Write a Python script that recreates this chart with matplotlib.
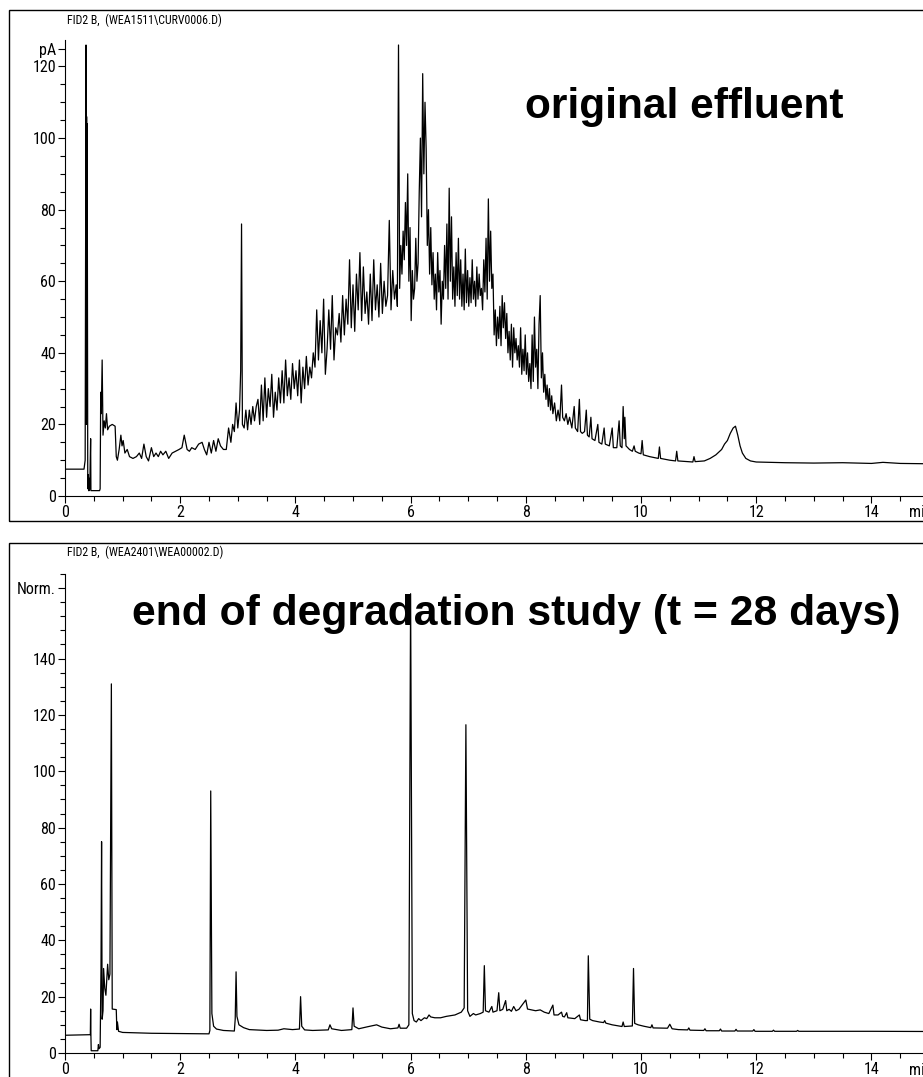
import numpy as np
import matplotlib
matplotlib.use('Agg')
import matplotlib.pyplot as plt
from matplotlib import font_manager
from matplotlib.patches import Rectangle
from matplotlib.ticker import MultipleLocator

# condensed face for the instrument labels, if one is installed
installed = {f.name for f in font_manager.fontManager.ttflist}
narrow = next((n for n in ('Liberation Sans Narrow', 'Arial Narrow',
                           'Roboto Condensed', 'Open Sans Condensed')
               if n in installed), None)
if narrow:
    label_size, header_size = 11.5, 8.6
    plt.rcParams['font.family'] = [narrow, 'Liberation Sans', 'DejaVu Sans']
else:
    label_size, header_size = 10, 7.5
    plt.rcParams['font.family'] = ['Liberation Sans', 'DejaVu Sans']

# --- FID2 B signal, original effluent (time in min, signal in pA) ---
effluent_trace = [
    (0.00, 7.5), (0.33, 7.5), (0.35, 10), (0.365, 126), (0.37, 20), (0.375, 106),
    (0.38, 58), (0.385, 104), (0.39, 60), (0.395, 4), (0.40, 2), (0.405, 6),
    (0.41, 1.5), (0.415, 5), (0.42, 1.5), (0.43, 2), (0.445, 16), (0.45, 1.5),
    (0.60, 1.5), (0.61, 2), (0.62, 29), (0.63, 23), (0.645, 38), (0.66, 17),
    (0.68, 21), (0.70, 19), (0.72, 23), (0.74, 18.5), (0.77, 19.5), (0.82, 20),
    (0.87, 19.5), (0.89, 11), (0.91, 10), (0.94, 13), (0.97, 17), (0.99, 14),
    (1.01, 15.5), (1.04, 12), (1.08, 13), (1.12, 11), (1.18, 10.5), (1.24, 11),
    (1.29, 12), (1.33, 10.5), (1.37, 14.5), (1.41, 11), (1.45, 9.8), (1.50, 13.5),
    (1.54, 11), (1.58, 12), (1.62, 11), (1.66, 12.5), (1.70, 11.5), (1.75, 12.5),
    (1.80, 10.5), (1.86, 12), (1.92, 12.5), (1.98, 13), (2.03, 13.5), (2.07, 17),
    (2.12, 13), (2.16, 12.5), (2.20, 13.5), (2.26, 13), (2.32, 14.5), (2.38, 15),
    (2.42, 13), (2.46, 11.5), (2.50, 15), (2.54, 12), (2.58, 15.5), (2.62, 12.5),
    (2.66, 16), (2.70, 14), (2.75, 13), (2.80, 13), (2.84, 19), (2.88, 15),
    (2.91, 20), (2.94, 18), (2.97, 26), (3.00, 19), (3.03, 24), (3.05, 35),
    (3.065, 76), (3.08, 20), (3.11, 19), (3.14, 24), (3.17, 18.5), (3.20, 24),
    (3.23, 20), (3.26, 25), (3.29, 21), (3.32, 25), (3.35, 27), (3.38, 20),
    (3.41, 31), (3.44, 21), (3.47, 33), (3.50, 22), (3.53, 30), (3.56, 25),
    (3.59, 34), (3.62, 22), (3.65, 29), (3.68, 24), (3.71, 33), (3.74, 26),
    (3.77, 35), (3.80, 26), (3.83, 38), (3.86, 28), (3.89, 33), (3.92, 27),
    (3.95, 37), (3.98, 30), (4.01, 35), (4.04, 28), (4.07, 38), (4.10, 26),
    (4.13, 36), (4.16, 30), (4.19, 39), (4.22, 31), (4.25, 36), (4.28, 33),
    (4.31, 40), (4.34, 36), (4.37, 52), (4.40, 38), (4.43, 49), (4.46, 40),
    (4.49, 55), (4.52, 34), (4.55, 41), (4.58, 52), (4.61, 41), (4.64, 56),
    (4.67, 38), (4.70, 47), (4.73, 45), (4.76, 51), (4.79, 43), (4.82, 56),
    (4.85, 45), (4.88, 55), (4.91, 48), (4.94, 66), (4.97, 47), (5.00, 59),
    (5.03, 46), (5.06, 62), (5.09, 52), (5.12, 68), (5.15, 49), (5.18, 64),
    (5.21, 51), (5.24, 57), (5.27, 48), (5.30, 62), (5.33, 49), (5.36, 66),
    (5.39, 52), (5.42, 59), (5.45, 50), (5.48, 65), (5.51, 51), (5.54, 60),
    (5.57, 53), (5.60, 56), (5.63, 77), (5.66, 52), (5.69, 63), (5.72, 55),
    (5.75, 59), (5.77, 53), (5.79, 126), (5.81, 58), (5.83, 70), (5.85, 62),
    (5.87, 74), (5.89, 66), (5.91, 82), (5.93, 70), (5.95, 90), (5.97, 60),
    (5.99, 75), (6.01, 49), (6.03, 63), (6.05, 55), (6.07, 58), (6.09, 72),
    (6.11, 60), (6.13, 65), (6.15, 85), (6.17, 100), (6.19, 78), (6.21, 118),
    (6.23, 90), (6.25, 110), (6.27, 97), (6.29, 70), (6.31, 80), (6.33, 62),
    (6.35, 75), (6.37, 59), (6.39, 68), (6.41, 55), (6.43, 62), (6.45, 52),
    (6.47, 68), (6.49, 57), (6.51, 63), (6.53, 48), (6.55, 60), (6.57, 55),
    (6.59, 70), (6.61, 58), (6.63, 76), (6.65, 55), (6.67, 86), (6.69, 60),
    (6.71, 78), (6.73, 55), (6.75, 64), (6.77, 53), (6.79, 68), (6.81, 56),
    (6.83, 72), (6.85, 55), (6.87, 66), (6.89, 53), (6.91, 62), (6.93, 52),
    (6.95, 69), (6.97, 54), (6.99, 63), (7.01, 53), (7.03, 61), (7.05, 54),
    (7.07, 66), (7.09, 55), (7.11, 60), (7.13, 53), (7.15, 64), (7.17, 55),
    (7.19, 62), (7.21, 56), (7.23, 58), (7.25, 52), (7.27, 66), (7.29, 57),
    (7.31, 72), (7.33, 55), (7.35, 83), (7.37, 60), (7.39, 74), (7.41, 58),
    (7.43, 62), (7.45, 45), (7.47, 52), (7.49, 42), (7.51, 50), (7.53, 44),
    (7.55, 53), (7.57, 42), (7.59, 56), (7.61, 47), (7.63, 54), (7.65, 44),
    (7.67, 51), (7.69, 40), (7.71, 46), (7.73, 38), (7.75, 48), (7.77, 36),
    (7.79, 47), (7.81, 40), (7.83, 44), (7.85, 38), (7.87, 42), (7.89, 36),
    (7.91, 47), (7.93, 34), (7.95, 41), (7.97, 35), (7.99, 45), (8.01, 34),
    (8.03, 40), (8.05, 32), (8.07, 37), (8.09, 30), (8.11, 45), (8.13, 32),
    (8.15, 50), (8.17, 36), (8.19, 41), (8.21, 30), (8.23, 48), (8.25, 56),
    (8.27, 33), (8.29, 40), (8.31, 29), (8.33, 34), (8.35, 27), (8.37, 31),
    (8.39, 25), (8.41, 30), (8.43, 24), (8.45, 28), (8.47, 23), (8.50, 26),
    (8.53, 21), (8.56, 24), (8.59, 21), (8.62, 31), (8.64, 22), (8.67, 21),
    (8.70, 23), (8.73, 20), (8.76, 22), (8.80, 19), (8.84, 25), (8.86, 19),
    (8.90, 18), (8.93, 27), (8.95, 18), (8.98, 17.5), (9.02, 18), (9.05, 24),
    (9.07, 17), (9.10, 16.5), (9.13, 22), (9.15, 16), (9.20, 15.5), (9.25, 20),
    (9.27, 15), (9.32, 14.5), (9.36, 19), (9.38, 14.5), (9.45, 14), (9.50, 19),
    (9.52, 13.5), (9.58, 13.5), (9.62, 21), (9.64, 14), (9.67, 13.5), (9.69, 25),
    (9.71, 16), (9.72, 22), (9.74, 14), (9.80, 13), (9.85, 12.5), (9.88, 14),
    (9.90, 12.5), (9.96, 12), (10.00, 11.8), (10.02, 15.5), (10.04, 11.5),
    (10.15, 11), (10.30, 10.5), (10.32, 13.7), (10.34, 10.5), (10.50, 10),
    (10.60, 9.8), (10.62, 12.5), (10.64, 9.8), (10.80, 9.6), (10.90, 9.5),
    (10.92, 11), (10.94, 9.6), (11.10, 9.8), (11.20, 10.5), (11.25, 11),
    (11.30, 11.5), (11.40, 13), (11.45, 14.5), (11.50, 15.5), (11.55, 17.5),
    (11.60, 19), (11.64, 19.5), (11.68, 17), (11.72, 14), (11.76, 12),
    (11.82, 10.5), (11.90, 9.8), (12.00, 9.5), (12.50, 9.3), (13.00, 9.2),
    (13.50, 9.3), (14.00, 9.1), (14.20, 9.4), (14.50, 9.1), (15.00, 9.0),
    (15.50, 9.0),
]

# --- FID2 B signal after 28 days (time in min, normalised signal) ---
degraded_trace = [
    (0.00, 6.3), (0.44, 6.5), (0.445, 15.6), (0.45, 6), (0.455, 0.8), (0.57, 0.8),
    (0.58, 3), (0.59, 1.5), (0.61, 2), (0.625, 30), (0.635, 75), (0.645, 12),
    (0.66, 15), (0.67, 30), (0.69, 23), (0.71, 20.5), (0.74, 31.5), (0.76, 26),
    (0.78, 28), (0.805, 131), (0.82, 15.6), (0.89, 15.4), (0.90, 8.3),
    (0.91, 11), (0.93, 7.7), (1.00, 7.3), (1.50, 7.0), (2.00, 6.9), (2.50, 6.8),
    (2.515, 8), (2.53, 93), (2.55, 14), (2.58, 9.5), (2.63, 8.5), (2.75, 8.0),
    (2.94, 7.8), (2.955, 12), (2.97, 28.8), (2.985, 13), (3.02, 10), (3.10, 9),
    (3.20, 8.3), (3.50, 8.0), (3.70, 8.1), (3.80, 8.6), (3.95, 8.3), (4.07, 8.5),
    (4.09, 20), (4.11, 9.5), (4.16, 8.2), (4.30, 8.0), (4.57, 8.2), (4.60, 10.0),
    (4.63, 8.6), (4.80, 8.0), (4.98, 8.3), (5.00, 16), (5.02, 9.5), (5.10, 8.6),
    (5.25, 9.3), (5.41, 10), (5.50, 9.2), (5.65, 8.6), (5.78, 8.9), (5.80, 10.2),
    (5.82, 8.8), (5.93, 8.8), (5.97, 10), (6.00, 163), (6.03, 14), (6.06, 11.5),
    (6.10, 11.0), (6.14, 12.2), (6.18, 11.5), (6.24, 12.5), (6.28, 12.2),
    (6.32, 13.5), (6.35, 12.8), (6.42, 12.5), (6.52, 12.5), (6.62, 13.0),
    (6.77, 13.5), (6.88, 14.5), (6.93, 16), (6.96, 116.5), (6.99, 15),
    (7.03, 13), (7.09, 14), (7.13, 13.5), (7.21, 14), (7.26, 14.5), (7.28, 31),
    (7.30, 15), (7.36, 14.5), (7.41, 16.5), (7.43, 14.5), (7.50, 15), (7.53, 21.4),
    (7.55, 15), (7.60, 15.5), (7.65, 18.6), (7.67, 15), (7.71, 15.5), (7.75, 14.8),
    (7.79, 16.5), (7.83, 15), (7.88, 15.5), (8.00, 18.8), (8.03, 15.6), (8.10, 15.3),
    (8.17, 15), (8.25, 15.3), (8.32, 14.5), (8.40, 14), (8.47, 17), (8.49, 13.5),
    (8.56, 13.5), (8.62, 14.5), (8.64, 13), (8.67, 12.8), (8.71, 14.3),
    (8.73, 12.5), (8.85, 12.2), (8.93, 13.5), (8.95, 11.8), (9.03, 11.5),
    (9.07, 11.5), (9.085, 34.5), (9.11, 12), (9.16, 11.5), (9.28, 11),
    (9.35, 10.8), (9.37, 11.5), (9.39, 10.6), (9.50, 10), (9.67, 9.4), (9.69, 11),
    (9.71, 9.4), (9.85, 9.6), (9.87, 30), (9.89, 10.5), (9.95, 10), (10.05, 9.5),
    (10.17, 9.0), (10.19, 10.0), (10.21, 8.9), (10.46, 8.8), (10.50, 10.2),
    (10.54, 8.6), (10.65, 8.3), (10.81, 8.2), (10.83, 8.9), (10.85, 8.1),
    (11.09, 8.0), (11.11, 8.6), (11.13, 7.9), (11.36, 7.9), (11.38, 8.5),
    (11.40, 7.8), (11.63, 7.8), (11.65, 8.4), (11.67, 7.8), (11.94, 7.8),
    (11.96, 8.3), (11.98, 7.7), (12.28, 7.7), (12.30, 8.1), (12.32, 7.7),
    (12.70, 7.7), (12.72, 8.0), (12.74, 7.7), (13.20, 7.7), (14.00, 7.7),
    (15.50, 7.6),
]

effluent_yticks = [0, 20, 40, 60, 80, 100, 120, 125]
effluent_ylabels = ['0', '20', '40', '60', '80', '100', '120', 'pA']
degraded_yticks = [0, 20, 40, 60, 80, 100, 120, 140, 165]
degraded_ylabels = ['0', '20', '40', '60', '80', '100', '120', '140', 'Norm.']
time_ticks = [0, 2, 4, 6, 8, 10, 12, 14]

W, H = 923, 1077
fig = plt.figure(figsize=(W / 100, H / 100), dpi=100)


def px_rect(x0, y0, x1, y1):
    # pixel box (top-left origin) -> figure fraction [left, bottom, width, height]
    return [x0 / W, 1 - y1 / H, (x1 - x0) / W, (y1 - y0) / H]


def chromatogram(rect, frame, trace, ymax, yticks, ylabels, header, header_y,
                 title, title_xy, title_size):
    fig.add_artist(Rectangle((frame[0], frame[1]), frame[2], frame[3],
                             transform=fig.transFigure, fill=False,
                             lw=1.0, ec='black'))
    ax = fig.add_axes(rect)
    t, sig = np.array(trace).T
    ax.plot(t, sig, color='black', lw=0.9)
    ax.set_xlim(0, 15.5)
    ax.set_ylim(0, ymax)
    for s in ('top', 'right'):
        ax.spines[s].set_visible(False)
    for s in ('left', 'bottom'):
        ax.spines[s].set_linewidth(0.8)
    ax.set_xticks(time_ticks)
    ax.set_xticklabels([str(v) for v in time_ticks])
    ax.xaxis.set_minor_locator(MultipleLocator(0.5))
    ax.set_yticks(yticks)
    ax.set_yticklabels(ylabels)
    ax.yaxis.set_minor_locator(MultipleLocator(5))
    ax.tick_params(which='major', direction='out', length=5, width=0.8,
                   labelsize=label_size, pad=1.5)
    ax.tick_params(which='minor', direction='out', length=3.5, width=0.8)
    ax.text(14.86, -0.02, 'min', transform=ax.get_xaxis_transform(),
            ha='center', va='top', fontsize=label_size)
    fig.text(67 / W, 1 - header_y / H, header, ha='left', va='center',
             fontsize=header_size)
    fig.text(title_xy[0] / W, 1 - title_xy[1] / H, title, ha='left',
             va='baseline', fontsize=title_size, fontweight='bold',
             family=['Liberation Sans', 'DejaVu Sans'])
    return ax


chromatogram(px_rect(65, 40, 65 + 15.5 * 57.6, 496),
             [9 / W, 1 - 521 / H, 1.0, 511 / H],
             effluent_trace, 127.4, effluent_yticks, effluent_ylabels,
             'FID2 B,  (WEA1511\\CURV0006.D)', 20,
             'original effluent', (525, 118), 30.5)

chromatogram(px_rect(65, 574, 65 + 15.5 * 57.6, 1053),
             [9 / W, -0.05, 1.0, 1 - 543 / H + 0.05],
             degraded_trace, 170, degraded_yticks, degraded_ylabels,
             'FID2 B,  (WEA2401\\WEA00002.D)', 552,
             'end of degradation study (t = 28 days)', (132, 625), 30.7)

fig.savefig('out.png', dpi=100)
